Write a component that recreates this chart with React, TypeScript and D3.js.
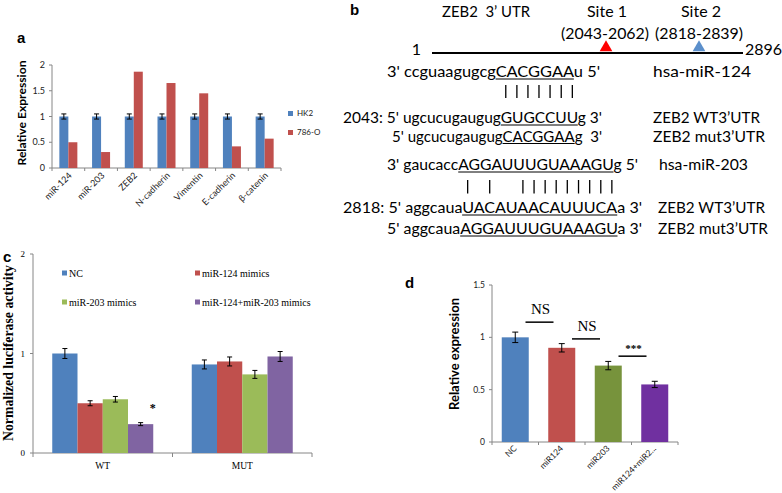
import React, { useEffect, useRef } from 'react';
import * as d3 from 'd3';

// ---- panel a: relative expression, HK2 vs 786-O ----
const aGenes = ['miR-124', 'miR-203', 'ZEB2', 'N-cadherin', 'Vimentin', 'E-cadherin', 'β-catenin'];
const aSeries = ['HK2', '786-O'];
const aHK2 = [1, 1, 1, 1, 1, 1, 1];
const aHK2Err = [0.05, 0.05, 0.05, 0.05, 0.05, 0.05, 0.05];
const a786 = [0.5, 0.31, 1.87, 1.65, 1.45, 0.42, 0.57];
const aTicks = [0, 0.5, 1, 1.5, 2];

// ---- panel b: ZEB2 3'UTR binding sites ----
const utrStart = '1';
const utrEnd = '2896';
const siteNames = ['Site 1', 'Site 2'];
const siteRanges = ['(2043-2062)', '(2818-2839)'];
const mirNames = ['hsa-miR-124', 'hsa-miR-203'];
const mirSeqs = [
  ["3' ccguaagugcg", 'CACGGAA', "u 5'"],
  ["3' gaucacc", 'AGGAUUUGUAAAGU', "g 5'"],
];
const wtSeqs = [
  ["2043: 5' ugcucugaugug", 'GUGCCUU', "g 3'"],
  ["2818: 5' aggcaua", 'UACAUAACAUUUCA', "a 3'"],
];
const mutSeqs = [
  ["5' ugcucugaugug", 'CACGGAA', "g  3'"],
  ["5' aggcaua", 'AGGAUUUGUAAAGU', "a 3'"],
];
const wtLabel = 'ZEB2 WT3’UTR';
const mutLabel = 'ZEB2 mut3’UTR';

// ---- panel c: luciferase ----
const cGroups = ['WT', 'MUT'];
const cSeries = ['NC', 'miR-124 mimics', 'miR-203 mimics', 'miR-124+miR-203 mimics'];
const cWT = [1.0, 0.5, 0.54, 0.29];
const cWTErr = [0.05, 0.025, 0.028, 0.015];
const cMUT = [0.89, 0.92, 0.79, 0.97];
const cMUTErr = [0.045, 0.045, 0.04, 0.05];
const cTicks = [0, 1, 2];

// ---- panel d: relative expression ----
const dGroups = ['NC', 'miR124', 'miR203', 'miR124+miR2...'];
const dValues = [1.0, 0.9, 0.73, 0.55];
const dErr = [0.05, 0.04, 0.04, 0.03];
const dSig = ['NS', 'NS', '***'];
const dSigLevel = [1.145, 0.985, 0.82];
const dTicks = [0, 0.5, 1, 1.5];

const blue = '#4F81BD';
const red = '#C0504D';
const green = '#9BBB59';
const purple = '#8064A2';
const axisGrey = '#868686';
const sans = 'Lato, "Open Sans", sans-serif';
const serif = '"Liberation Serif", "Times New Roman", serif';

type Sel = d3.Selection<SVGSVGElement, unknown, null, undefined>;

const errBar = (g: any, cx: number, y0: number, y1: number, cap: number) => {
  g.append('line').attr('x1', cx).attr('x2', cx).attr('y1', y0).attr('y2', y1)
    .attr('stroke', '#000').attr('stroke-width', 1);
  [y0, y1].forEach(yy => {
    g.append('line').attr('x1', cx - cap / 2).attr('x2', cx + cap / 2).attr('y1', yy).attr('y2', yy)
      .attr('stroke', '#000').attr('stroke-width', 1);
  });
};

const drawA = (svg: Sel) => {
  const g = svg.append('g');
  const y = d3.scaleLinear().domain([0, 2]).range([168, 65]);
  const x0 = d3.scaleBand().domain(aGenes).range([52, 281]);
  const x1 = d3.scaleBand().domain(aSeries).range([0, 18]);
  const off = (x0.bandwidth() - 18) / 2;

  g.append('text').text('a').attr('x', 17).attr('y', 43)
    .attr('font-family', '"Liberation Sans", Arial, sans-serif').attr('font-weight', 'bold').attr('font-size', 15);

  g.append('line').attr('x1', 52).attr('x2', 52).attr('y1', y(0)).attr('y2', y(2)).attr('stroke', axisGrey);
  aTicks.forEach(t => {
    g.append('line').attr('x1', 49).attr('x2', 52).attr('y1', y(t)).attr('y2', y(t)).attr('stroke', axisGrey);
    g.append('text').text(String(t)).attr('x', 45).attr('y', y(t)).attr('dy', '0.35em')
      .attr('text-anchor', 'end').attr('font-family', sans).attr('font-size', 9).attr('fill', '#222');
  });
  g.append('line').attr('x1', 52).attr('x2', 281).attr('y1', y(0)).attr('y2', y(0)).attr('stroke', axisGrey);
  [...aGenes.map(d => x0(d)!), 281].forEach(xx => {
    g.append('line').attr('x1', xx).attr('x2', xx).attr('y1', y(0)).attr('y2', y(0) + 3).attr('stroke', axisGrey);
  });

  aGenes.forEach((gene, i) => {
    const bx = x0(gene)! + off;
    g.append('rect').attr('x', bx + x1('HK2')!).attr('width', x1.bandwidth())
      .attr('y', y(aHK2[i])).attr('height', y(0) - y(aHK2[i])).attr('fill', blue);
    g.append('rect').attr('x', bx + x1('786-O')!).attr('width', x1.bandwidth())
      .attr('y', y(a786[i])).attr('height', y(0) - y(a786[i])).attr('fill', red);
    errBar(g, bx + x1('HK2')! + x1.bandwidth() / 2, y(aHK2[i] - aHK2Err[i]), y(aHK2[i] + aHK2Err[i]), 5);
    const lx = x0(gene)! + x0.bandwidth() / 2 + 4;
    g.append('text').text(gene).attr('transform', `translate(${lx},176) rotate(-45)`)
      .attr('text-anchor', 'end').attr('font-family', sans).attr('font-size', 9).attr('fill', '#222');
  });

  g.append('text').text('Relative Expression')
    .attr('transform', `translate(26,113) rotate(-90)`).attr('text-anchor', 'middle')
    .attr('font-family', sans).attr('font-weight', 'bold').attr('font-size', 11.5)
    .attr('textLength', 105).attr('lengthAdjust', 'spacingAndGlyphs');

  [blue, red].forEach((c, i) => {
    g.append('rect').attr('x', 288).attr('y', 111 + i * 19).attr('width', 5).attr('height', 5).attr('fill', c);
    g.append('text').text(aSeries[i]).attr('x', 297).attr('y', 113.5 + i * 19).attr('dy', '0.35em')
      .attr('font-family', sans).attr('font-size', 8).attr('fill', '#222');
  });
};

const comp = (a: string, b: string) =>
  (a === 'A' && b === 'U') || (a === 'U' && b === 'A') || (a === 'G' && b === 'C') || (a === 'C' && b === 'G');

const drawB = (svg: Sel) => {
  const g = svg.append('g');
  const fs = 16;
  const txt = (s: string, x: number, yb: number, w?: number, anchor = 'start') => {
    const t = g.append('text').text(s).attr('x', x).attr('y', yb).attr('font-family', sans)
      .attr('font-size', fs).attr('text-anchor', anchor).style('white-space', 'pre');
    if (w) t.attr('textLength', w).attr('lengthAdjust', 'spacingAndGlyphs');
    return t;
  };

  g.append('text').text('b').attr('x', 350).attr('y', 15)
    .attr('font-family', '"Liberation Sans", Arial, sans-serif').attr('font-weight', 'bold').attr('font-size', 15);

  txt('ZEB2  3’ UTR', 442, 17, 88);
  const siteX = [606, 700];
  siteNames.forEach((s, i) => {
    txt(s, siteX[i] + 1, 17, undefined, 'middle');
    txt(siteRanges[i], siteX[i] - 1, 39, 88, 'middle');
  });

  g.append('line').attr('x1', 432).attr('x2', 743).attr('y1', 53).attr('y2', 53)
    .attr('stroke', '#000').attr('stroke-width', 2);
  txt(utrStart, 421, 55, undefined, 'end');
  txt(utrEnd, 745, 55, 37);
  const tri = d3.symbol().type(d3.symbolTriangle).size(70);
  [['#FF0000', siteX[0]], ['#5B8FCB', siteX[1] - 1]].forEach(([c, x]) => {
    g.append('path').attr('d', tri()!).attr('transform', `translate(${x},47.5)`).attr('fill', c as string);
  });

  const layout = [
    { mirY: 77, barTop: 85, barBot: 98, wtY: 123, mutY: 141.5,
      mirX: [387, 600], wtX: [343, 602], mutX: [392, 602], lab: [[653, 98], [653, 107], [653, 112]] },
    { mirY: 170, barTop: 180, barBot: 193.5, wtY: 213, mutY: 234,
      mirX: [387, 638], wtX: [343, 642], mutX: [387, 642], lab: [[659, 89], [658, 107], [658, 110]] },
  ];

  const seqRow = (parts: string[], xr: number[], yb: number) => {
    const t = txt(parts.join(''), xr[0], yb, xr[1] - xr[0]);
    const node = t.node() as SVGTextElement;
    const k0 = parts[0].length;
    const k1 = k0 + parts[1].length - 1;
    const ux0 = node.getStartPositionOfChar(k0).x;
    const ux1 = node.getEndPositionOfChar(k1).x;
    g.append('line').attr('x1', ux0).attr('x2', ux1).attr('y1', yb + 2).attr('y2', yb + 2)
      .attr('stroke', '#000').attr('stroke-width', 1);
    return parts[1].split('').map((_, i) =>
      (node.getStartPositionOfChar(k0 + i).x + node.getEndPositionOfChar(k0 + i).x) / 2);
  };

  layout.forEach((L, r) => {
    const mc = seqRow(mirSeqs[r], L.mirX, L.mirY);
    const wc = seqRow(wtSeqs[r], L.wtX, L.wtY);
    seqRow(mutSeqs[r], L.mutX, L.mutY);
    txt(mirNames[r], L.lab[0][0], L.mirY, L.lab[0][1]);
    txt(wtLabel, L.lab[1][0], L.wtY, L.lab[1][1]);
    txt(mutLabel, L.lab[2][0], L.mutY, L.lab[2][1]);
    mirSeqs[r][1].split('').forEach((ch, i) => {
      if (!comp(ch, wtSeqs[r][1][i])) return;
      const bx = (mc[i] + wc[i]) / 2 + 2;
      g.append('line').attr('x1', bx).attr('x2', bx).attr('y1', L.barTop).attr('y2', L.barBot)
        .attr('stroke', '#000').attr('stroke-width', 1.3);
    });
  });
};

const drawC = (svg: Sel) => {
  const g = svg.append('g');
  const y = d3.scaleLinear().domain([0, 2]).range([453, 254]);
  const x0 = d3.scaleBand().domain(cGroups).range([33, 312]);
  const x1 = d3.scaleBand().domain(cSeries).range([0, 101]);
  const off = (x0.bandwidth() - 101) / 2;
  const colors = [blue, red, green, purple];
  const vals = [cWT, cMUT];
  const errs = [cWTErr, cMUTErr];

  g.append('text').text('c').attr('x', 3).attr('y', 262)
    .attr('font-family', '"Liberation Sans", Arial, sans-serif').attr('font-weight', 'bold').attr('font-size', 15);

  g.append('line').attr('x1', 33).attr('x2', 33).attr('y1', y(0)).attr('y2', y(2)).attr('stroke', axisGrey);
  cTicks.forEach(t => {
    g.append('line').attr('x1', 30).attr('x2', 33).attr('y1', y(t)).attr('y2', y(t)).attr('stroke', axisGrey);
    g.append('text').text(String(t)).attr('x', 25).attr('y', y(t)).attr('dy', '0.35em')
      .attr('text-anchor', 'end').attr('font-family', serif).attr('font-size', 9);
  });
  g.append('line').attr('x1', 33).attr('x2', 312).attr('y1', y(0)).attr('y2', y(0)).attr('stroke', axisGrey);
  [...cGroups.map(d => x0(d)!), 312].forEach(xx => {
    g.append('line').attr('x1', xx).attr('x2', xx).attr('y1', y(0)).attr('y2', y(0) + 4).attr('stroke', axisGrey);
  });

  cGroups.forEach((grp, gi) => {
    cSeries.forEach((s, si) => {
      const bx = x0(grp)! + off + x1(s)!;
      const v = vals[gi][si];
      g.append('rect').attr('x', bx).attr('width', x1.bandwidth()).attr('y', y(v))
        .attr('height', y(0) - y(v)).attr('fill', colors[si]);
      errBar(g, bx + x1.bandwidth() / 2, y(v - errs[gi][si]), y(v + errs[gi][si]), 5);
    });
    g.append('text').text(grp).attr('x', x0(grp)! + x0.bandwidth() / 2).attr('y', 469)
      .attr('text-anchor', 'middle').attr('font-family', serif).attr('font-size', 9.5);
  });

  // significance star on the combined mimics, WT
  const sx = x0('WT')! + off + x1(cSeries[3])! + x1.bandwidth() / 2 + 12;
  g.append('text').text('*').attr('x', sx).attr('y', y(cWT[3] + 0.12))
    .attr('text-anchor', 'middle').attr('font-family', serif).attr('font-weight', 'bold').attr('font-size', 12);

  const legX = [62, 195];
  const legY = [273, 302];
  cSeries.forEach((s, i) => {
    const lx = legX[i % 2];
    const ly = legY[Math.floor(i / 2)];
    g.append('rect').attr('x', lx).attr('y', ly - 2.5).attr('width', 5).attr('height', 5).attr('fill', colors[i]);
    g.append('text').text(s).attr('x', lx + 7).attr('y', ly).attr('dy', '0.35em')
      .attr('font-family', serif).attr('font-size', 10);
  });

  g.append('text').text('Normalized luciferase activity')
    .attr('transform', `translate(12.5,353) rotate(-90)`).attr('text-anchor', 'middle')
    .attr('font-family', serif).attr('font-weight', 'bold').attr('font-size', 14)
    .attr('textLength', 176).attr('lengthAdjust', 'spacingAndGlyphs');
};

const drawD = (svg: Sel) => {
  const g = svg.append('g');
  const y = d3.scaleLinear().domain([0, 1.5]).range([442, 285]);
  const x = d3.scaleBand().domain(dGroups).range([492, 678]);
  const colors = [blue, red, '#77933C', '#7030A0'];
  const bw = 27;
  const off = (x.bandwidth() - bw) / 2;

  g.append('text').text('d').attr('x', 405).attr('y', 288)
    .attr('font-family', '"Liberation Sans", Arial, sans-serif').attr('font-weight', 'bold').attr('font-size', 15);

  g.append('line').attr('x1', 492).attr('x2', 492).attr('y1', y(0)).attr('y2', y(1.5)).attr('stroke', axisGrey);
  dTicks.forEach(t => {
    g.append('line').attr('x1', 489).attr('x2', 492).attr('y1', y(t)).attr('y2', y(t)).attr('stroke', axisGrey);
    g.append('text').text(String(t)).attr('x', 485).attr('y', y(t)).attr('dy', '0.35em')
      .attr('text-anchor', 'end').attr('font-family', sans).attr('font-size', 8.5).attr('fill', '#222');
  });
  g.append('line').attr('x1', 492).attr('x2', 678).attr('y1', y(0)).attr('y2', y(0)).attr('stroke', axisGrey);
  [...dGroups.map(d => x(d)!), 678].forEach(xx => {
    g.append('line').attr('x1', xx).attr('x2', xx).attr('y1', y(0)).attr('y2', y(0) + 3).attr('stroke', axisGrey);
  });

  dGroups.forEach((grp, i) => {
    const bx = x(grp)! + off;
    g.append('rect').attr('x', bx).attr('width', bw).attr('y', y(dValues[i]))
      .attr('height', y(0) - y(dValues[i])).attr('fill', colors[i]);
    errBar(g, bx + bw / 2, y(dValues[i] - dErr[i]), y(dValues[i] + dErr[i]), 6);
    const lx = x(grp)! + x.bandwidth() / 2 + 2;
    g.append('text').text(grp).attr('transform', `translate(${lx},449) rotate(-45)`)
      .attr('text-anchor', 'end').attr('font-family', sans).attr('font-size', 8.5).attr('fill', '#222');
  });

  dSig.forEach((s, i) => {
    const cx = x(dGroups[i + 1])!;
    const ly = y(dSigLevel[i]);
    g.append('line').attr('x1', cx - 13).attr('x2', cx + 15).attr('y1', ly).attr('y2', ly)
      .attr('stroke', '#000').attr('stroke-width', 1.5);
    g.append('text').text(s).attr('x', cx + 2).attr('y', s === 'NS' ? ly - 8 : ly - 4)
      .attr('text-anchor', 'middle').attr('font-family', serif)
      .attr('font-size', s === 'NS' ? 15 : 11).attr('font-weight', s === 'NS' ? 'normal' : 'bold');
  });

  g.append('text').text('Relative expression')
    .attr('transform', `translate(459,354) rotate(-90)`).attr('text-anchor', 'middle')
    .attr('font-family', sans).attr('font-weight', 'bold').attr('font-size', 12.5)
    .attr('textLength', 112).attr('lengthAdjust', 'spacingAndGlyphs');
};

const App = () => {
  const ref = useRef<SVGSVGElement>(null);

  useEffect(() => {
    const svg = d3.select(ref.current!) as Sel;
    svg.selectAll('*').remove();
    drawA(svg);
    drawB(svg);
    drawC(svg);
    drawD(svg);
  }, []);

  return (
    <svg ref={ref} width={782} height={493}
      style={{ position: 'absolute', left: 0, top: 0, background: '#fff' }} />
  );
};

export default App;
